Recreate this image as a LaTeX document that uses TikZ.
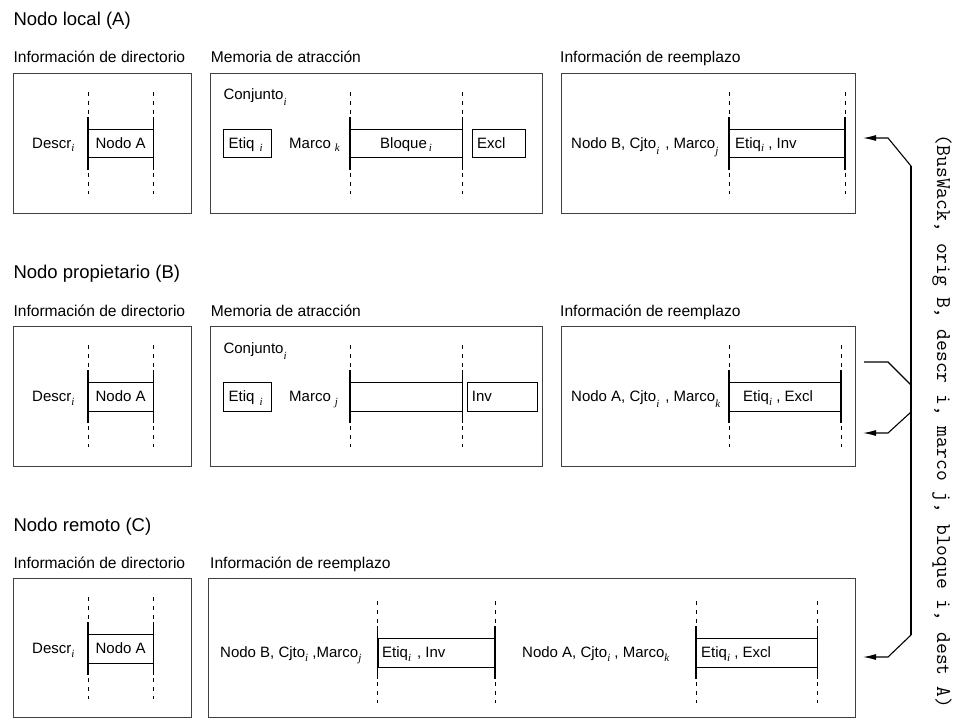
\documentclass[tikz,border=0pt]{standalone}
\usepackage{fontspec}
\setmainfont{Liberation Sans}
\newfontfamily\subserif{Liberation Serif}
\usetikzlibrary{arrows.meta}
\newcommand\sbs[1]{\raisebox{-3.5pt}{\fontsize{11}{11}\selectfont\subserif\itshape #1}}
\newcommand\sbslow[1]{\raisebox{-6pt}{\fontsize{11}{11}\selectfont\subserif\itshape #1}}
\tikzset{
  outer/.style={draw=black!75, line width=0.9pt, inner sep=0pt, anchor=north west, minimum height=140pt},
  inbox/.style={draw=black, line width=0.8pt, inner sep=0pt, anchor=north west, minimum height=28.5pt},
  dline/.style={draw=black, line width=0.7pt, dash pattern=on 4pt off 5pt},
  sline/.style={draw=black, line width=1.2pt},
  ttl/.style={anchor=base west, inner sep=0pt, font=\fontsize{18.5}{22}\selectfont},
  lbl/.style={anchor=base west, inner sep=0pt, font=\fontsize{15.6}{18}\selectfont},
  txt/.style={anchor=base west, inner sep=0pt, font=\fontsize{15}{17}\selectfont},
  conn/.style={draw=black, line width=1.1pt, line join=miter},
  tip/.style={-{Latex[length=13pt,width=6pt]}}
}
\newcommand\vcolumn[2]{%
  \draw[dline] (#1,#2-37) -- (#1,#2+65);
  \draw[sline] (#1,#2-12) -- (#1,#2+41);}
\begin{document}
\begin{tikzpicture}[x=1pt,y=-1pt]
\useasboundingbox (0,0) rectangle (955,718);
% ---------------- Row A ----------------
\node[ttl] (tA) at (13.3,25.4) {Nodo local (A)};
\node[lbl] (lA1) at (13.3,62.7) {Información de directorio};
\node[lbl] (lA2) at (210.7,62.7) {Memoria de atracción};
\node[lbl] (lA3) at (560,62.7) {Información de reemplazo};
\node[outer, minimum width=177.7pt] (bA1) at (13.3,72.7) {};
\node[outer, minimum width=332pt] (bA2) at (210,72.7) {};
\node[outer, minimum width=294pt] (bA3) at (561,72.7) {};
% box 1
\vcolumn{88}{128.7}\vcolumn{153.3}{128.7}
\node[inbox, minimum width=65.3pt] (nA) at (88,128.7) {};
\node[txt, anchor=base] (nAt) at (120.6,148.2) {Nodo A};
\node[txt] (dA) at (32,148.2) {Descr\sbs{i}};
% box 2
\node[txt] (cA) at (223.3,99.7) {Conjunto\sbslow{i}};
\node[inbox, minimum width=47.5pt] (eA) at (223,128.7) {};
\node[txt] (eAt) at (228.5,148.2) {Etiq\hspace{5pt}\sbs{i}};
\node[txt] (mA) at (289,148.2) {Marco\hspace{4pt}\sbs{k}};
\vcolumn{350}{128.7}\vcolumn{462.3}{128.7}
\node[inbox, minimum width=112.3pt] (blA) at (350,128.7) {};
\node[txt] (blAt) at (380,148.2) {Bloque\hspace{2pt}\sbs{i}};
\node[inbox, minimum width=53pt] (xA) at (472,128.7) {};
\node[txt] (xAt) at (477,148.2) {Excl};
% box 3
\node[txt] (rAt) at (571,148.2) {Nodo B, Cjto\sbslow{i}\hspace{6pt}, Marco\sbslow{j}};
\vcolumn{729}{128.7}\vcolumn{845}{128.7}
\node[inbox, minimum width=116pt] (rA) at (729,128.7) {};
\node[txt] (rAe) at (735,148.2) {Etiq\sbs{i} , Inv};
% ---------------- Row B ----------------
\node[ttl] (tB) at (13.3,278.7) {Nodo propietario (B)};
\node[lbl] (lB1) at (13.3,316) {Información de directorio};
\node[lbl] (lB2) at (210.7,316) {Memoria de atracción};
\node[lbl] (lB3) at (560,316) {Información de reemplazo};
\node[outer, minimum width=177.7pt] (bB1) at (13.3,326) {};
\node[outer, minimum width=332pt] (bB2) at (210,326) {};
\node[outer, minimum width=294pt] (bB3) at (561,326) {};
% box 1
\vcolumn{88}{382}\vcolumn{153.3}{382}
\node[inbox, minimum width=65.3pt] (nB) at (88,382) {};
\node[txt, anchor=base] (nBt) at (120.6,401.5) {Nodo A};
\node[txt] (dB) at (32,401.5) {Descr\sbs{i}};
% box 2
\node[txt] (cB) at (223.3,353) {Conjunto\sbslow{i}};
\node[inbox, minimum width=47.5pt] (eB) at (223,382) {};
\node[txt] (eBt) at (228.5,401.5) {Etiq\hspace{5pt}\sbs{i}};
\node[txt] (mB) at (289,401.5) {Marco\hspace{4pt}\sbs{j}};
\vcolumn{350}{382}\vcolumn{462.3}{382}
\node[inbox, minimum width=112.3pt] (blB) at (350,382) {};
\node[inbox, minimum width=70.6pt] (iB) at (466.7,382) {};
\node[txt] (iBt) at (471.7,401.5) {Inv};
% box 3
\node[txt] (rBt) at (571,401.5) {Nodo A, Cjto\sbslow{i}\hspace{6pt}, Marco\sbslow{k}};
\vcolumn{729}{382}\vcolumn{841}{382}
\node[inbox, minimum width=112pt] (rB) at (729,382) {};
\node[txt] (rBe) at (743,401.5) {Etiq\sbs{i} , Excl};
% ---------------- Row C ----------------
\node[ttl] (tC) at (13.3,531) {Nodo remoto (C)};
\node[lbl] (lC1) at (13.3,568.3) {Información de directorio};
\node[lbl] (lC2) at (210,568.3) {Información de reemplazo};
\node[outer, minimum width=177.7pt, minimum height=138.5pt] (bC1) at (13.3,578.3) {};
\node[outer, minimum width=646.7pt, minimum height=138.5pt] (bC2) at (208.3,578.3) {};
% box 1
\vcolumn{88}{634.3}\vcolumn{153.3}{634.3}
\node[inbox, minimum width=65.3pt] (nC) at (88,634.3) {};
\node[txt, anchor=base] (nCt) at (120.6,653.7) {Nodo A};
\node[txt] (dC) at (32,653.7) {Descr\sbs{i}};
% box 2
\node[txt] (r1Ct) at (220,657.7) {Nodo B, Cjto\sbs{i} ,Marco\sbs{j}};
\vcolumn{377.7}{638.3}\vcolumn{495}{638.3}
\node[inbox, minimum width=117.3pt] (r1C) at (377.7,638.3) {};
\node[txt] (r1Ce) at (382,657.7) {Etiq\sbs{i}\hspace{6pt}, Inv};
\node[txt] (r2Ct) at (522,657.7) {Nodo A, Cjto\sbs{i} , Marco\sbs{k}};
\vcolumn{696}{638.3}\vcolumn{817.3}{638.3}
\node[inbox, minimum width=121.3pt] (r2C) at (696,638.3) {};
\node[txt] (r2Ce) at (701,657.7) {Etiq\sbs{i} , Excl};
% ---------------- message and connectors ----------------
\node[rotate=-90, inner sep=0pt, font=\fontsize{21}{23}\selectfont\ttfamily] (msg) at (942,421.5) {(BusWack, orig B, descr i, marco j, bloque i, dest A)};
\coordinate (vTop) at (911,166);
\coordinate (vBot) at (911,635);
\coordinate (kA) at (888,138);
\coordinate (eAend) at (863,138);
\coordinate (outB) at (864,362);
\coordinate (kB1) at (888,362);
\coordinate (jB1) at (911,385);
\coordinate (jB2) at (911,412);
\coordinate (kB2) at (888,433);
\coordinate (eBend) at (863,433);
\coordinate (kC) at (888,657);
\coordinate (eCend) at (863,657);
\draw[conn] (vTop) -- (vBot);
\draw[conn, tip] (vTop) -- (kA) -- (eAend);
\draw[conn] (outB) -- (kB1) -- (jB1);
\draw[conn, tip] (jB2) -- (kB2) -- (eBend);
\draw[conn, tip] (vBot) -- (kC) -- (eCend);
\end{tikzpicture}
\end{document}
